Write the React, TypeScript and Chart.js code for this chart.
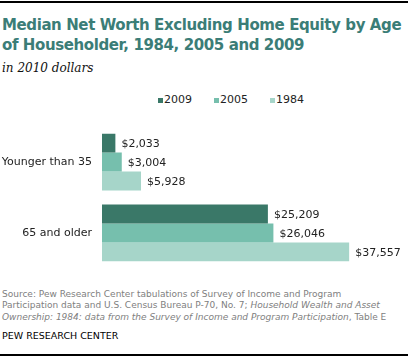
import React, { useEffect, useRef } from "react";
import { Chart, registerables } from "chart.js";

Chart.register(...registerables);

const categories = ["Younger than 35", "65 and older"];
const seriesNames = ["2009", "2005", "1984"];
const values2009 = [2033, 25209];
const values2005 = [3004, 26046];
const values1984 = [5928, 37557];
const seriesColors = ["#3a7868", "#76bfad", "#a6d5c9"];

const FONT = "'DejaVu Sans', Verdana, sans-serif";

const dataLabelPlugin = {
  id: "dataLabels",
  afterDatasetsDraw(chart: any) {
    const ctx = chart.ctx;
    ctx.save();
    ctx.font = `11px ${FONT}`;
    ctx.fillStyle = "#222";
    ctx.textAlign = "left";
    ctx.textBaseline = "middle";
    chart.data.datasets.forEach((ds: any, i: number) => {
      const meta = chart.getDatasetMeta(i);
      meta.data.forEach((bar: any, j: number) => {
        const v = ds.data[j];
        ctx.fillText("$" + v.toLocaleString("en-US"), bar.x + 6, bar.y + 1);
      });
    });
    ctx.restore();
  },
};

export default function App() {
  const ref = useRef<HTMLCanvasElement | null>(null);

  useEffect(() => {
    if (!ref.current) return;
    const chart = new Chart(ref.current, {
      type: "bar",
      data: {
        labels: categories,
        datasets: [values2009, values2005, values1984].map((d, i) => ({
          label: seriesNames[i],
          data: d,
          backgroundColor: seriesColors[i],
          borderWidth: 0,
          categoryPercentage: 0.8,
          barPercentage: 1.0,
        })),
      },
      options: {
        indexAxis: "y",
        animation: false,
        responsive: false,
        maintainAspectRatio: false,
        layout: { padding: { top: 9, bottom: 8, left: 0, right: 0 } },
        plugins: {
          legend: { display: false },
          tooltip: { enabled: false },
        },
        scales: {
          x: { display: false, min: 0, max: 46500 },
          y: {
            grid: { display: false, drawTicks: false },
            border: { display: false },
            ticks: {
              color: "#222",
              font: { family: FONT, size: 11 },
              padding: 10,
            },
            afterFit: (scale: any) => {
              scale.width = 102;
            },
          },
        },
      },
      plugins: [dataLabelPlugin],
    } as any);
    return () => chart.destroy();
  }, []);

  return (
    <div
      style={{
        position: "absolute",
        left: 0,
        top: 0,
        width: 408,
        height: 357,
        background: "#fff",
        overflow: "hidden",
        fontFamily: FONT,
      }}
    >
      <div style={{ position: "absolute", left: 0, top: 1, width: 408, height: 2, background: "#000" }} />
      <div
        style={{
          position: "absolute",
          left: 2,
          top: 15,
          width: 410,
          fontWeight: "bold",
          fontSize: 15,
          letterSpacing: "-0.4px",
          lineHeight: "20px",
          color: "#3b7d77",
          whiteSpace: "nowrap",
        }}
      >
        Median Net Worth Excluding Home Equity by Age
        <br />
        of Householder, 1984, 2005 and 2009
      </div>
      <div
        style={{
          position: "absolute",
          left: 2,
          top: 61,
          fontFamily: "Georgia, 'DejaVu Serif', serif",
          fontStyle: "italic",
          fontSize: 12,
          color: "#111",
        }}
      >
        in 2010 dollars
      </div>
      <div style={{ position: "absolute", left: 0, top: 93, width: 408, height: 14 }}>
        {seriesNames.map((n, i) => (
          <div
            key={n}
            style={{
              position: "absolute",
              left: 158 + i * 56,
              top: 0,
              display: "flex",
              alignItems: "center",
              fontSize: 11,
              color: "#222",
              lineHeight: "14px",
            }}
          >
            <span style={{ display: "inline-block", width: 5, height: 5, background: seriesColors[i], marginRight: 1 }} />
            <span>{n}</span>
          </div>
        ))}
      </div>
      <canvas
        ref={ref}
        width={408}
        height={175}
        style={{ position: "absolute", left: 0, top: 110, width: 408, height: 175 }}
      />
      <div
        style={{
          position: "absolute",
          left: 2,
          top: 289,
          fontSize: 9,
          lineHeight: "11.3px",
          color: "#808080",
          whiteSpace: "nowrap",
        }}
      >
        Source: Pew Research Center tabulations of Survey of Income and Program
        <br />
        Participation data and U.S. Census Bureau P-70, No. 7; <i>Household Wealth and Asset</i>
        <br />
        <i>Ownership: 1984: data from the Survey of Income and Program Participation</i>, Table E
      </div>
      <div
        style={{
          position: "absolute",
          left: 2,
          top: 330,
          fontSize: 9.5,
          color: "#000",
          whiteSpace: "nowrap",
        }}
      >
        PEW RESEARCH CENTER
      </div>
      <div style={{ position: "absolute", left: 0, top: 354, width: 408, height: 2, background: "#000" }} />
    </div>
  );
}
